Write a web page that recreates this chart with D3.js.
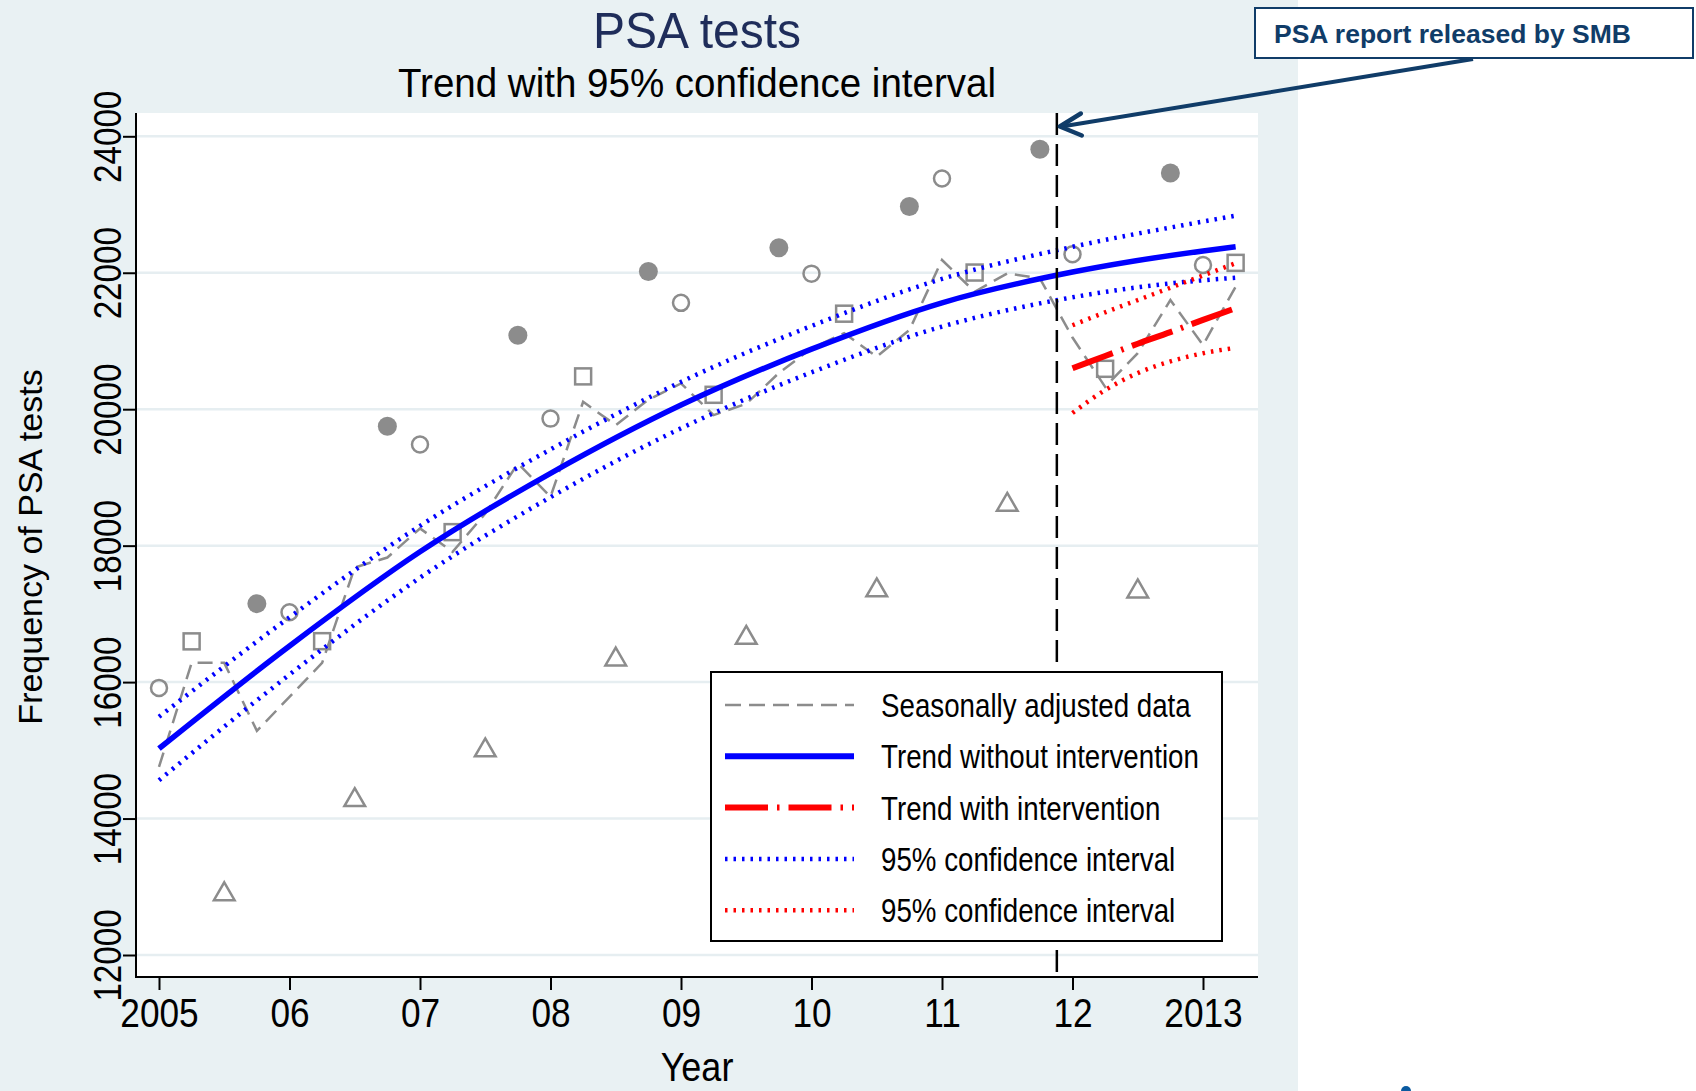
<!DOCTYPE html>
<html>
<head>
<meta charset="utf-8">
<script src="https://cdn.jsdelivr.net/npm/d3@7"></script>
<style>
  body { margin: 0; background: #fff; }
  svg { display: block; }
</style>
</head>
<body>
<div id="chart"></div>
<script>
// Axis ticks
var yearTicks = [2005, 2006, 2007, 2008, 2009, 2010, 2011, 2012, 2013];
var yearLabels = ["2005", "06", "07", "08", "09", "10", "11", "12", "2013"];
var yTicks = [12000, 14000, 16000, 18000, 20000, 22000, 24000];

// Quarterly observations (decimal year)
var quarters = [2005, 2005.25, 2005.5, 2005.75, 2006, 2006.25, 2006.5, 2006.75,
                2007, 2007.25, 2007.5, 2007.75, 2008, 2008.25, 2008.5, 2008.75,
                2009, 2009.25, 2009.5, 2009.75, 2010, 2010.25, 2010.5, 2010.75,
                2011, 2011.25, 2011.5, 2011.75, 2012, 2012.25, 2012.5, 2012.75,
                2013, 2013.25];
var observed = [15915, 16597, 12935, 17150, 17025, 16600, 14314, 19751,
                19482, 18198, 15043, 21083, 19862, 20481, 16375, 22018,
                21559, 20211, 16692, 22367, 21987, 21400, 17389, 22970,
                23382, 22003, 18642, 23810, 22272, 20592, 17373, 23461,
                22114, 22145];
var seasonal = [14757, 16282, 16282, 15285, 15783, 16282, 17680, 17826,
                18252, 17910, 18470, 19205, 18716, 20108, 19767, 20140,
                20378, 19914, 20080, 20530, 20892, 21115, 20770, 21160,
                22187, 21722, 21990, 21918, 21050, 20328, 20822, 21600,
                20940, 21795];

// Trend without intervention with 95% CI
var trendYears = [2005, 2006, 2007, 2008, 2009, 2010, 2011, 2012, 2013, 2013.25];
var trend      = [15026, 16530, 17910, 19060, 20060, 20880, 21560, 22010, 22320, 22381];
var trendUpper = [15491, 16950, 18290, 19410, 20400, 21220, 21910, 22380, 22750, 22836];
var trendLower = [14561, 16110, 17530, 18710, 19720, 20540, 21210, 21640, 21890, 21926];

// Trend with intervention with 95% CI
var interYears = [2012, 2012.25, 2012.5, 2012.75, 2013, 2013.25];
var interTrend = [20600, 20780, 20960, 21130, 21310, 21480];
var interUpper = [21230, 21420, 21600, 21780, 21960, 22140];
var interLower = [19945, 20280, 20530, 20700, 20820, 20900];

var interventionYear = 2011.88;

var legendLabels = ["Seasonally adjusted data", "Trend without intervention",
                    "Trend with intervention", "95% confidence interval",
                    "95% confidence interval"];

var W = 1696, H = 1091;
var plot = { left: 136, right: 1258, top: 113, bottom: 977 };
var sans = "'Liberation Sans', Arial, sans-serif";
var grey = "#8c8c8c";

var svg = d3.select("#chart").append("svg")
    .attr("width", W)
    .attr("height", H);

// backgrounds
svg.append("rect").attr("x", 0).attr("y", 0).attr("width", W).attr("height", H).attr("fill", "#fff");
svg.append("rect").attr("x", 0).attr("y", 0).attr("width", 1298).attr("height", H).attr("fill", "#e9f1f3");
svg.append("rect")
    .attr("x", plot.left).attr("y", plot.top)
    .attr("width", plot.right - plot.left).attr("height", plot.bottom - plot.top)
    .attr("fill", "#fff");

// scales
var x = d3.scaleLinear().domain([2005, 2013]).range([159, 1203]);
var y = d3.scaleLinear().domain([12000, 24000]).range([955, 136.3]);

// gridlines
svg.append("g").selectAll("line")
    .data(yTicks)
    .enter().append("line")
    .attr("x1", plot.left).attr("x2", plot.right)
    .attr("y1", function(d) { return y(d); })
    .attr("y2", function(d) { return y(d); })
    .attr("stroke", "#e6eef1")
    .attr("stroke-width", 2.5);

var line = d3.line()
    .x(function(d) { return x(d[0]); })
    .y(function(d) { return y(d[1]); });
var smooth = d3.line()
    .curve(d3.curveMonotoneX)
    .x(function(d) { return x(d[0]); })
    .y(function(d) { return y(d[1]); });

function pairs(xs, ys) { return xs.map(function(v, i) { return [v, ys[i]]; }); }

// condensed text: Arial-like glyphs squeezed horizontally
function label(px, py, size, sx, txt, anchor) {
    return svg.append("text")
        .attr("transform", "translate(" + px + "," + py + ") scale(" + sx + ",1)")
        .attr("text-anchor", anchor || "middle")
        .attr("fill", "#000")
        .style("font-family", sans)
        .style("font-size", size + "px")
        .text(txt);
}

// seasonally adjusted (dashed grey)
svg.append("path")
    .attr("d", line(pairs(quarters, seasonal)))
    .attr("fill", "none")
    .attr("stroke", grey)
    .attr("stroke-width", 2.5)
    .attr("stroke-dasharray", "15,8");

// quarterly markers: Q1 hollow circle, Q2 hollow square, Q3 hollow triangle, Q4 filled circle
var markers = svg.append("g");
quarters.forEach(function(q, i) {
    var cx = x(q), cy = y(observed[i]), k = i % 4;
    if (k === 0) {
        markers.append("circle").attr("cx", cx).attr("cy", cy).attr("r", 8)
            .attr("fill", "none").attr("stroke", grey).attr("stroke-width", 2.5);
    } else if (k === 1) {
        markers.append("rect").attr("x", cx - 8).attr("y", cy - 8).attr("width", 16).attr("height", 16)
            .attr("fill", "none").attr("stroke", grey).attr("stroke-width", 2.5);
    } else if (k === 2) {
        markers.append("path")
            .attr("d", d3.symbol().type(d3.symbolTriangle).size(185)())
            .attr("transform", "translate(" + cx + "," + (cy + 3) + ")")
            .attr("fill", "none").attr("stroke", grey).attr("stroke-width", 2.5);
    } else {
        markers.append("circle").attr("cx", cx).attr("cy", cy).attr("r", 9.5)
            .attr("fill", grey);
    }
});

// trend without intervention
[trendUpper, trendLower].forEach(function(s) {
    svg.append("path")
        .attr("d", smooth(pairs(trendYears, s)))
        .attr("fill", "none").attr("stroke", "#0000ff")
        .attr("stroke-width", 4.5).attr("stroke-dasharray", "2.5,6");
});
svg.append("path")
    .attr("d", smooth(pairs(trendYears, trend)))
    .attr("fill", "none").attr("stroke", "#0000ff").attr("stroke-width", 5.5);

// trend with intervention
[interUpper, interLower].forEach(function(s) {
    svg.append("path")
        .attr("d", smooth(pairs(interYears, s)))
        .attr("fill", "none").attr("stroke", "#ff0000")
        .attr("stroke-width", 4.5).attr("stroke-dasharray", "2.5,6");
});
svg.append("path")
    .attr("d", smooth(pairs(interYears, interTrend)))
    .attr("fill", "none").attr("stroke", "#ff0000")
    .attr("stroke-width", 6).attr("stroke-dasharray", "43,9,2.5,9");

// intervention line
svg.append("line")
    .attr("x1", x(interventionYear)).attr("x2", x(interventionYear))
    .attr("y1", plot.top).attr("y2", plot.bottom)
    .attr("stroke", "#000").attr("stroke-width", 2.5)
    .attr("stroke-dasharray", "22,9");

// y axis
var yAxis = svg.append("g")
    .attr("transform", "translate(" + plot.left + ",0)")
    .call(d3.axisLeft(y).tickValues(yTicks).tickSize(13).tickSizeOuter(0).tickFormat(d3.format("d")));
yAxis.select(".domain").remove();
yAxis.selectAll(".tick line").attr("stroke", "#000").attr("stroke-width", 2);
yAxis.selectAll(".tick text")
    .attr("transform", "rotate(-90) scale(0.85,1)")
    .attr("x", 0).attr("y", -15).attr("dy", null)
    .attr("text-anchor", "middle")
    .attr("fill", "#000")
    .style("font-family", sans)
    .style("font-size", "39px");

// x axis
var xAxis = svg.append("g")
    .attr("transform", "translate(0," + plot.bottom + ")")
    .call(d3.axisBottom(x).tickValues(yearTicks).tickSize(13).tickSizeOuter(0)
        .tickFormat(function(d, i) { return yearLabels[i]; }));
xAxis.select(".domain").remove();
xAxis.selectAll(".tick line").attr("stroke", "#000").attr("stroke-width", 2);
xAxis.selectAll(".tick text")
    .attr("transform", "scale(0.86,1)")
    .attr("y", 50).attr("dy", null)
    .attr("fill", "#000")
    .style("font-family", sans)
    .style("font-size", "41px");

svg.append("line")
    .attr("x1", plot.left).attr("x2", plot.left)
    .attr("y1", plot.top).attr("y2", plot.bottom + 1)
    .attr("stroke", "#000").attr("stroke-width", 2);
svg.append("line")
    .attr("x1", plot.left).attr("x2", plot.right)
    .attr("y1", plot.bottom).attr("y2", plot.bottom)
    .attr("stroke", "#000").attr("stroke-width", 2);

// titles
label(697, 48, 50, 0.96, "PSA tests").attr("fill", "#1f2d5a");
label(697, 97, 41, 0.94, "Trend with 95% confidence interval");
label(697, 1081, 40, 0.9, "Year");
svg.append("text")
    .attr("transform", "translate(42,547) rotate(-90)")
    .attr("text-anchor", "middle")
    .attr("fill", "#000")
    .style("font-family", sans)
    .style("font-size", "34px")
    .text("Frequency of PSA tests");

// legend
var legend = svg.append("g");
legend.append("rect")
    .attr("x", 711).attr("y", 672).attr("width", 511).attr("height", 269)
    .attr("fill", "#fff").attr("stroke", "#000").attr("stroke-width", 2);
var legendStyles = [
    { color: grey, width: 2.5, dash: "16,8" },
    { color: "#0000ff", width: 6, dash: null },
    { color: "#ff0000", width: 6, dash: "43,9,2.5,9" },
    { color: "#0000ff", width: 4.5, dash: "2.5,6" },
    { color: "#ff0000", width: 4.5, dash: "2.5,6" }
];
legendLabels.forEach(function(txt, i) {
    var ly = 705 + i * 51.3, st = legendStyles[i];
    legend.append("line")
        .attr("x1", 725).attr("x2", 854).attr("y1", ly).attr("y2", ly)
        .attr("stroke", st.color).attr("stroke-width", st.width)
        .attr("stroke-dasharray", st.dash);
    label(881, ly + 12, 33, 0.84, txt, "start");
});

// annotation
var navy = "#103c68";
svg.append("rect")
    .attr("x", 1255).attr("y", 8).attr("width", 438).attr("height", 50)
    .attr("fill", "#fff").attr("stroke", navy).attr("stroke-width", 2);
svg.append("text")
    .attr("x", 1274).attr("y", 43)
    .attr("fill", navy)
    .style("font-family", sans)
    .style("font-weight", "bold")
    .style("font-size", "26.5px")
    .text("PSA report released by SMB");
var tipX = x(interventionYear) + 3, tipY = 126.5;
svg.append("line")
    .attr("x1", 1473).attr("y1", 59).attr("x2", tipX + 2).attr("y2", tipY)
    .attr("stroke", navy).attr("stroke-width", 4);
svg.append("path")
    .attr("d", "M" + (tipX + 21) + "," + (tipY - 13) + " L" + tipX + "," + tipY + " L" + (tipX + 22) + "," + (tipY + 9))
    .attr("fill", "none").attr("stroke", navy).attr("stroke-width", 4.5)
    .attr("stroke-linecap", "round").attr("stroke-linejoin", "round");

// small cut-off mark at the bottom edge
svg.append("circle").attr("cx", 1406).attr("cy", 1091).attr("r", 5).attr("fill", "#0a5aa0");
</script>
</body>
</html>
